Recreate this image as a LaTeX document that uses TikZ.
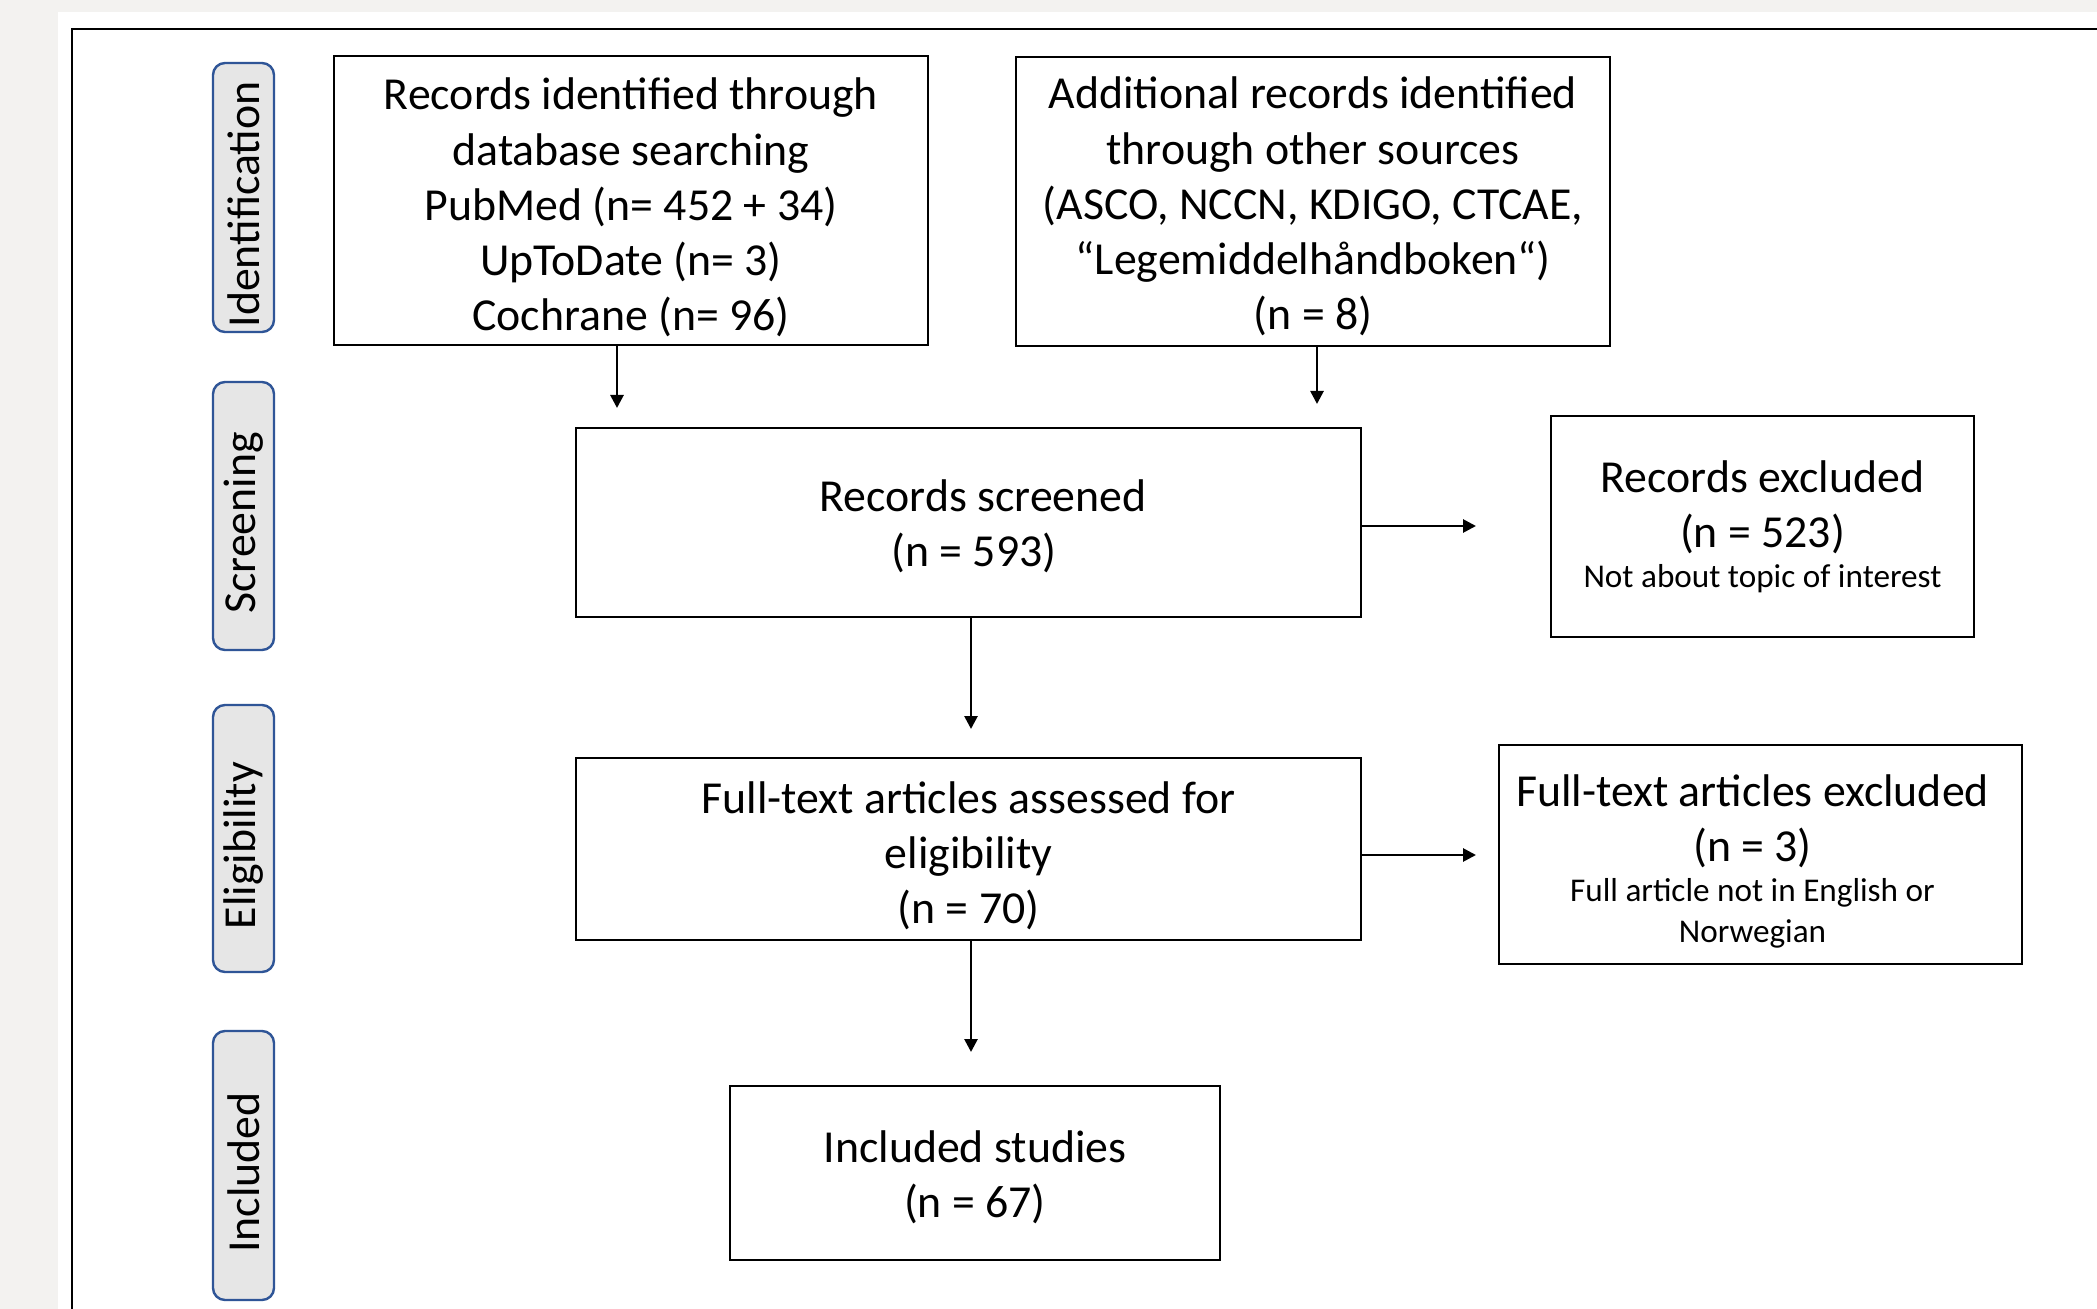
\documentclass[tikz,border=0pt]{standalone}
\usepackage{fontspec}
\setmainfont{Carlito}
\usetikzlibrary{arrows.meta}
\definecolor{bggray}{RGB}{243,242,240}
\definecolor{lblfill}{RGB}{230,230,230}
\definecolor{lbldraw}{RGB}{47,85,151}
\newcommand{\mainsz}{\fontsize{22.9}{27.6}\selectfont}
\newcommand{\smallsz}{\fontsize{16.6}{20.7}\selectfont}
\begin{document}
\begin{tikzpicture}[x=0.5pt,y=-0.5pt,
  stagebox/.style={draw, line width=1pt, inner sep=0pt},
  stagetext/.style={align=center, inner sep=0pt, font=\mainsz},
  phase/.style={draw=lbldraw, fill=lblfill, line width=1.2pt, rounded corners=6pt,
    minimum width=30.5pt, inner sep=0pt},
  phasetext/.style={rotate=90, inner sep=0pt, font=\mainsz},
  arr/.style={line width=1.35pt, -{Triangle[length=6.5pt,width=6.5pt]}}]
\fill[bggray] (0,0) rectangle (2097,1309);
\useasboundingbox (0,0) rectangle (2097,1309);
\clip (0,0) rectangle (2097,1309);
\fill[white] (58,12) rectangle (2097,1309);
\draw[line width=1.1pt] (2110,29) -- (72,29) -- (72,1320);

% phase labels
\node[phase, minimum height=134.5pt] (pid) at (243.5,197.5) {};
\node[phase, minimum height=134pt] (psc) at (243.5,516) {};
\node[phase, minimum height=133.5pt] (pel) at (243.5,838.5) {};
\node[phase, minimum height=134.5pt] (pin) at (243.5,1165.5) {};
\node[phasetext] (pidt) at ([yshift=-3.5pt]pid.center) {Identification};
\node[phasetext] (psct) at ([yshift=-3.5pt]psc.center) {Screening};
\node[phasetext] (pelt) at ([yshift=-3.5pt]pel.center) {Eligibility};
\node[phasetext] (pint) at ([yshift=-3.5pt]pin.center) {Included};

% boxes
\node[stagebox, minimum width=297pt, minimum height=144.5pt] (A) at (631,200.5) {};
\node[stagebox, minimum width=297pt, minimum height=144.5pt] (B) at (1313,201.5) {};
\node[stagebox, minimum width=392.5pt, minimum height=94.5pt] (S) at (968.5,522.5) {};
\node[stagebox, minimum width=211.5pt, minimum height=110.5pt] (E1) at (1762.5,526.5) {};
\node[stagebox, minimum width=392.5pt, minimum height=91pt] (F) at (968.5,849) {};
\node[stagebox, minimum width=261.5pt, minimum height=109.5pt] (E2) at (1760.5,854.5) {};
\node[stagebox, minimum width=245pt, minimum height=87pt] (I) at (975,1173) {};

% texts
\node[stagetext] (At) at ([yshift=-3.5pt]A.center)
  {Records identified through\\database searching\\PubMed (n= 452 + 34)\\UpToDate (n= 3)\\Cochrane (n= 96)};
\node[stagetext] (Bt) at ([yshift=-2.5pt]B.center)
  {Additional records identified\\through other sources\\(ASCO, NCCN, KDIGO, CTCAE,\\“Legemiddelhåndboken“)\\(n = 8)};
\node[stagetext] (St) at ([yshift=-2pt]S.center)
  {\hspace*{14.7pt}Records screened\\\hspace*{5.4pt}(n = 593)};
\node[stagetext] (E1t) at ([yshift=0pt]E1.center)
  {Records excluded\\(n = 523)\\[-7.6pt]\smallsz Not about topic of interest};
\node[stagetext] (Ft) at ([yshift=-3.5pt]F.center)
  {Full-text articles assessed for\\eligibility\\(n = 70)};
\node[stagetext] (E2t) at ([xshift=-4pt,yshift=-3.5pt]E2.center)
  {Full-text articles excluded\\(n = 3)\\[-7.6pt]\smallsz Full article not in English or\\[-6.9pt]\smallsz Norwegian};
\node[stagetext] (It) at ([yshift=-2pt]I.center)
  {Included studies\\(n = 67)};

% connectors
\coordinate (a1) at (617,408);
\coordinate (b1) at (1317,404);
\coordinate (s1) at (1476,526);
\coordinate (s2) at (971,729);
\coordinate (f1) at (1476,855);
\coordinate (f2) at (971,1052);

\draw[arr] (A.south -| a1) -- (a1);
\draw[arr] (B.south -| b1) -- (b1);
\draw[arr] (S.east |- s1) -- (s1);
\draw[arr] (S.south -| s2) -- (s2);
\draw[arr] (F.east |- f1) -- (f1);
\draw[arr] (F.south -| f2) -- (f2);
\end{tikzpicture}
\end{document}
